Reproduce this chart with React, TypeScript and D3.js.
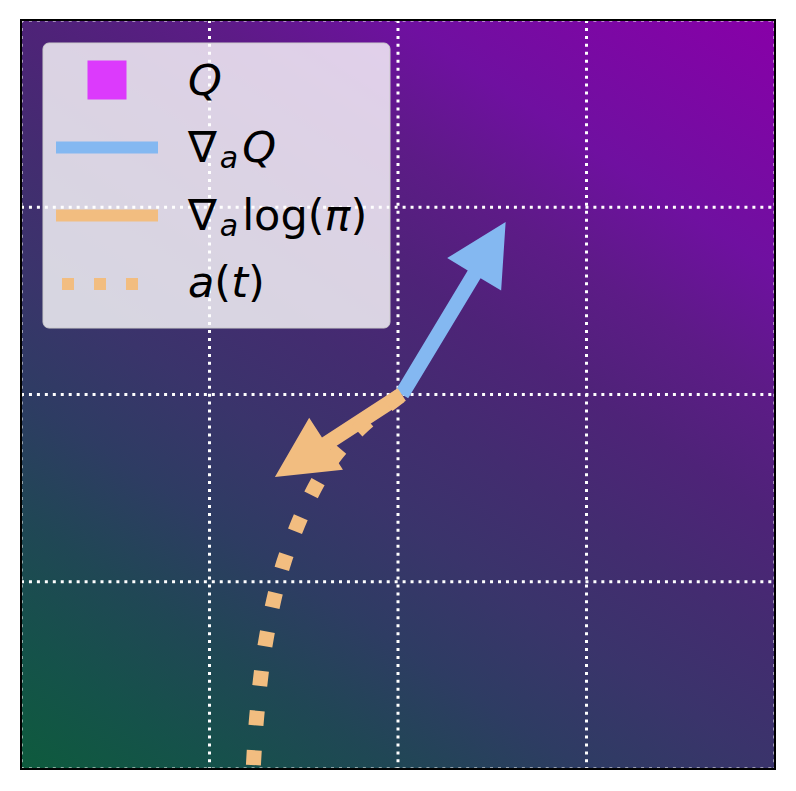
import React from 'react';
import * as d3 from 'd3';

const W = 796;
const H = 791;

// axes
const xDomain: [number, number] = [-2, 2];
const yDomain: [number, number] = [-2, 2];
const gridTicks = [-2, -1, 0, 1, 2];

// Q background (linear in action: Q = w0*x + w1*y)
const qWeights = [1, 1.5];
const qLevels = [-5, -4, -3, -2, -1, 0, 1, 2, 3, 5];
const qColors = ['#0e5b3d', '#15524a', '#204755', '#2e3c63', '#3a346b', '#432c70', '#4e2378', '#5d1b87', '#6f10a0', '#8800a8'];

// current action and the two gradients
const actionPoint = [0.02, 0];
const gradQ = [0.551, 0.921];
const gradLogPi = [-0.673, -0.44];

// trajectory a(t)
const trajX = [-0.767, -0.75, -0.7, -0.605, -0.444, -0.329, -0.191, 0.02];
const trajY = [-1.979, -1.725, -1.308, -0.894, -0.502, -0.32, -0.171, 0];

// legend
const legendLabels = ['Q', '∇aQ', '∇alog(π)', 'a(t)'];
const colQ = '#dc3afc';
const colGradQ = '#84b8f1';
const colGradPi = '#f2bd80';

const FONT = "'DejaVu Sans', sans-serif";

function arrowPoints(tx: number, ty: number, px: number, py: number, w: number, hw: number, hl: number) {
  const dx = px - tx, dy = py - ty;
  const len = Math.hypot(dx, dy);
  const ux = dx / len, uy = dy / len;
  const nx = -uy, ny = ux;
  const bx = px - ux * hl, by = py - uy * hl;
  const pts = [
    [tx + nx * w / 2, ty + ny * w / 2],
    [bx + nx * w / 2, by + ny * w / 2],
    [bx + nx * hw / 2, by + ny * hw / 2],
    [px, py],
    [bx - nx * hw / 2, by - ny * hw / 2],
    [bx - nx * w / 2, by - ny * w / 2],
    [tx - nx * w / 2, ty - ny * w / 2],
  ];
  return pts.map(p => p.join(',')).join(' ');
}

export default function App() {
  const left = 21, right = 775, top = 20, bottom = 769;
  const x = d3.scaleLinear().domain(xDomain).range([left, right]);
  const y = d3.scaleLinear().domain(yDomain).range([bottom, top]);

  // gradient geometry in pixel space
  const gx = qWeights[0] / (x(1) - x(0));
  const gy = qWeights[1] / (y(1) - y(0));
  const g2 = gx * gx + gy * gy;
  const qMin = qLevels[0], qMax = qLevels[qLevels.length - 1];
  const ax = x(xDomain[0]), ay = y(yDomain[0]);
  const qA = qWeights[0] * xDomain[0] + qWeights[1] * yDomain[0];
  const sx = ax + gx * (qMin - qA) / g2;
  const sy = ay + gy * (qMin - qA) / g2;
  const ex = sx + gx * (qMax - qMin) / g2;
  const ey = sy + gy * (qMax - qMin) / g2;

  const tx = x(actionPoint[0]), ty = y(actionPoint[1]);
  const blue = arrowPoints(tx, ty, x(actionPoint[0] + gradQ[0]), y(actionPoint[1] + gradQ[1]), 15, 63, 61);
  const orange = arrowPoints(tx, ty, x(actionPoint[0] + gradLogPi[0]), y(actionPoint[1] + gradLogPi[1]), 15, 62, 61);

  const traj = d3.line<number>()
    .x((_, i) => x(trajX[i]))
    .y((_, i) => y(trajY[i]))
    .curve(d3.curveCatmullRom.alpha(0.5))(trajX.map((_, i) => i)) || '';

  const lx0 = 56, lx1 = 158;
  const rowY = [80, 147.5, 215.5, 284];
  const baseY = [95, 162, 230, 297];
  const textX = 188;
  const fs = 43;
  const sub = 30;

  return (
    <svg width={W} height={H} style={{ position: 'absolute', left: 0, top: 0, background: '#fff' }} fontFamily={FONT}>
      <defs>
        <linearGradient id="qbg" gradientUnits="userSpaceOnUse" x1={sx} y1={sy} x2={ex} y2={ey}>
          {qLevels.map((q, i) => (
            <stop key={i} offset={(q - qMin) / (qMax - qMin)} stopColor={qColors[i]} />
          ))}
        </linearGradient>
        <clipPath id="plotclip">
          <rect x={left} y={top} width={right - left} height={bottom - top} />
        </clipPath>
      </defs>
      <rect x={left} y={top} width={right - left} height={bottom - top} fill="url(#qbg)" />
      <g clipPath="url(#plotclip)">
        {gridTicks.map(t => (
          <line key={'v' + t} x1={x(t)} x2={x(t)} y1={top} y2={bottom} stroke="#ffffff" strokeWidth={3} strokeDasharray="3 4.95" />
        ))}
        {gridTicks.map(t => (
          <line key={'h' + t} y1={y(t)} y2={y(t)} x1={left} x2={right} stroke="#ffffff" strokeWidth={3} strokeDasharray="3 4.95" />
        ))}
        <polygon points={blue} fill={colGradQ} />
        <polygon points={orange} fill={colGradPi} />
        <path d={traj} fill="none" stroke={colGradPi} strokeWidth={15} strokeDasharray="15 24.75" strokeLinecap="butt" />
      </g>

      {/* legend */}
      <rect x={43} y={43} width={347} height={285} rx={6} ry={6} fill="#ffffff" fillOpacity={0.8} stroke="#cccccc" strokeWidth={1} />
      <rect x={87.5} y={60.5} width={39} height={39} fill={colQ} />
      <line x1={lx0} x2={lx1} y1={rowY[1]} y2={rowY[1]} stroke={colGradQ} strokeWidth={12} />
      <line x1={lx0} x2={lx1} y1={rowY[2]} y2={rowY[2]} stroke={colGradPi} strokeWidth={12} />
      <line x1={lx0} x2={lx1} y1={rowY[3]} y2={rowY[3]} stroke={colGradPi} strokeWidth={12} strokeDasharray="12 20" strokeDashoffset={26} />

      <text x={textX} y={baseY[0]} fontSize={fs} fontStyle="italic" fill="#000">{legendLabels[0]}</text>
      <text x={textX} y={baseY[1]} fontSize={fs} fill="#000">
        <tspan>{legendLabels[1].slice(0, 1)}</tspan>
        <tspan fontStyle="italic" fontSize={sub} dy={6} dx={3}>{legendLabels[1].slice(1, 2)}</tspan>
        <tspan fontStyle="italic" dy={-6} dx={4}>{legendLabels[1].slice(2)}</tspan>
      </text>
      <text x={textX} y={baseY[2]} fontSize={fs} fill="#000">
        <tspan>{legendLabels[2].slice(0, 1)}</tspan>
        <tspan fontStyle="italic" fontSize={sub} dy={6} dx={3}>{legendLabels[2].slice(1, 2)}</tspan>
        <tspan dy={-6} dx={4}>{legendLabels[2].slice(2, 6)}</tspan>
        <tspan fontStyle="italic">{legendLabels[2].slice(6, 7)}</tspan>
        <tspan>{legendLabels[2].slice(7)}</tspan>
      </text>
      <text x={textX} y={baseY[3]} fontSize={fs} fill="#000">
        <tspan fontStyle="italic">{legendLabels[3].slice(0, 1)}</tspan>
        <tspan>{legendLabels[3].slice(1, 2)}</tspan>
        <tspan fontStyle="italic">{legendLabels[3].slice(2, 3)}</tspan>
        <tspan>{legendLabels[3].slice(3)}</tspan>
      </text>

      <rect x={left} y={top} width={right - left} height={bottom - top} fill="none" stroke="#000" strokeWidth={2} />
    </svg>
  );
}
